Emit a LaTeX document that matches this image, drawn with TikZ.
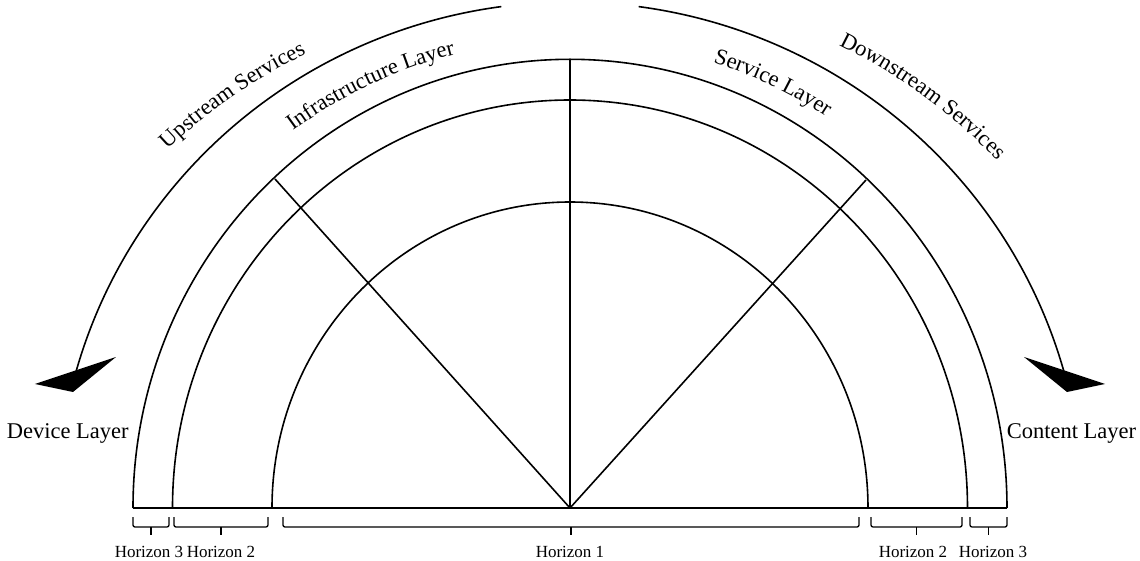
\documentclass[tikz,border=0pt]{standalone}
\usepackage{fontspec}
\setmainfont{Liberation Serif}
\usetikzlibrary{decorations.text}
\newcommand\lyrfont{\fontsize{22.5}{27}\selectfont}
\newcommand\hzfont{\fontsize{17}{20}\selectfont}
\begin{document}
\begin{tikzpicture}[x=1pt,y=1pt,line width=1.6pt,
  brace/.style={draw,line width=1.3pt,rounded corners=2pt},
  hz/.style={font=\hzfont,anchor=base,inner sep=0pt},
  lyr/.style={font=\lyrfont,anchor=base west,inner sep=0pt},
  tip/.style={fill=black,draw=none},
  curvetext/.style={decorate,decoration={text along path,text align=center,text={|\lyrfont|#1}}}]
\useasboundingbox (-570,-52) rectangle (570,508);
% base and rings
\coordinate (O) at (0,0);
\coordinate (BL) at (-437,0);
\coordinate (BR) at (437,0);
\coordinate (top) at (0,448.7);
\coordinate (dl) at (-295,329);
\coordinate (dr) at (296,328);
\draw (BL) -- (BR);
\draw (BR) arc[start angle=0,end angle=180,x radius=437pt,y radius=448.7pt];
\draw (397.5,0) arc[start angle=0,end angle=180,x radius=397.5pt,y radius=408pt];
\draw (298,0) arc[start angle=0,end angle=180,x radius=298pt,y radius=306pt];
\draw (O) -- (top);
\draw (O) -- (dl);
\draw (O) -- (dr);
% braces
\foreach \a/\b in {-437/-401,-396/-302,-287/289,301/392,400/437}{
  \draw[brace] (\a,-9) -- (\a,-19) -- (\b,-19) -- (\b,-9);
  \draw[brace] ({(\a+\b)/2},-19) -- ++(0,-8);
}
\node[hz] (h3l) at (-421,-49) {Horizon 3};
\node[hz] (h2l) at (-349,-49) {Horizon 2};
\node[hz] (h1) at (0,-49) {Horizon 1};
\node[hz] (h2r) at (343,-49) {Horizon 2};
\node[hz] (h3r) at (423,-49) {Horizon 3};
% side labels
\node[lyr] (dev) at (-564,70) {Device Layer};
\node[lyr] (cont) at (436,70) {Content Layer};
% arrows
\coordinate (la) at (-68.7,501.4);
\coordinate (ra) at (68.7,501.4);
\draw (la) arc[start angle=97.7,end angle=164.5,x radius=513pt,y radius=506pt];
\draw (ra) arc[start angle=82.3,end angle=15.5,x radius=513pt,y radius=506pt];
\fill[tip] (-535,124) -- (-454,151) -- (-497,116) -- cycle;
\fill[tip] (535,124) -- (454,151) -- (497,116) -- cycle;
% curved labels
\path[curvetext={Upstream Services}] (147:560pt and 515pt) arc[start angle=147,end angle=107.4,x radius=560pt,y radius=515pt];
\path[curvetext={Infrastructure Layer}] (135:468pt) arc[start angle=135,end angle=95.5,radius=468pt];
\path[curvetext={Service Layer}] (84:468pt) arc[start angle=84,end angle=45,radius=468pt];
\path[curvetext={Downstream Services}] (70:570pt and 525pt) arc[start angle=70,end angle=33,x radius=570pt,y radius=525pt];
\end{tikzpicture}
\end{document}
